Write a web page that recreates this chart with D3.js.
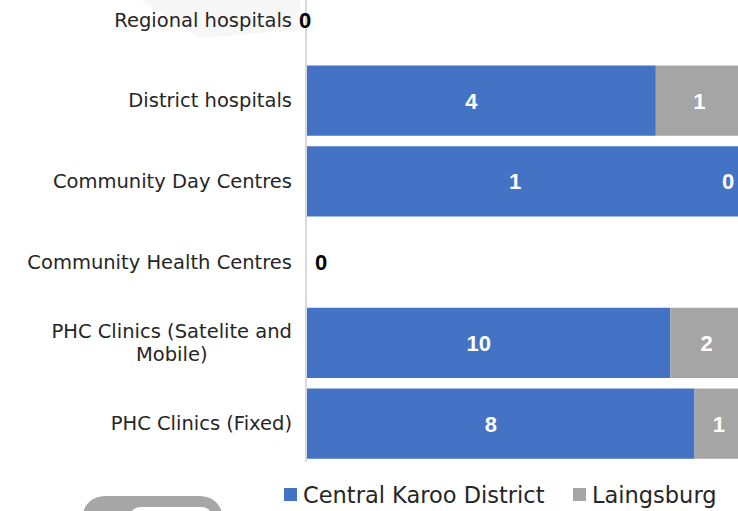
<!DOCTYPE html>
<html>
<head>
<meta charset="utf-8">
<script src="https://cdn.jsdelivr.net/npm/d3@7"></script>
<style>
  body { margin: 0; background: #fff; }
  svg { display: block; }
</style>
</head>
<body>
<svg id="mainsvg" width="738" height="511"></svg>
<script>
const categories = ['Regional hospitals', 'District hospitals', 'Community Day Centres',
    'Community Health Centres', 'PHC Clinics (Satelite and Mobile)', 'PHC Clinics (Fixed)'];
const centralKaroo = [0, 4, 1, 0, 10, 8];
const laingsburg = [0, 1, 0, 0, 2, 1];
const seriesNames = ['Central Karoo District', 'Laingsburg'];
const colors = ['#4472C4', '#A5A5A5'];

const svg = d3.select('#mainsvg');
const width = +svg.attr('width');
const height = +svg.attr('height');

// decorations from the source slide
svg.append('path')
    .attr('d', 'M140,0 L300,0 L300,30 L200,38 Z')
    .attr('fill', '#f7f7f7');
svg.append('rect')
    .attr('x', 83).attr('y', 496).attr('width', 139).attr('height', 40)
    .attr('rx', 22).attr('fill', '#a6a6a6');
svg.append('rect')
    .attr('x', 130).attr('y', 507).attr('width', 82).attr('height', 30)
    .attr('rx', 10).attr('fill', '#fff');

const xScale = d3.scaleLinear().domain([0, 1]).range([307, 743]);
const yScale = d3.scaleBand().domain(categories).range([-20.5, 464]).paddingInner(0.13).paddingOuter(0.065);

const rows = categories.map((c, i) => {
    const total = centralKaroo[i] + laingsburg[i];
    return { cat: c, vals: [centralKaroo[i], laingsburg[i]], total: total };
});

const g = svg.append('g');
const numFont = 'Liberation Sans, Arial, sans-serif';

rows.forEach(r => {
    if (r.total === 0) return;
    let acc = 0;
    r.vals.forEach((v, k) => {
        const x0 = xScale(acc / r.total);
        const x1 = xScale((acc + v) / r.total);
        if (v > 0) {
            g.append('rect')
                .attr('x', x0).attr('y', yScale(r.cat))
                .attr('width', x1 - x0).attr('height', yScale.bandwidth())
                .attr('fill', colors[k]);
        }
        // zero segments sit at the right edge of the bar; blue labels sit a bit left of centre
        const lx = v > 0 ? (x0 + x1) / 2 - (k === 0 ? 10 : 0) : x1 - 15;
        g.append('text')
            .attr('x', lx).attr('y', yScale(r.cat) + yScale.bandwidth() / 2)
            .attr('dy', '0.36em')
            .attr('text-anchor', 'middle')
            .attr('fill', '#fff')
            .attr('font-family', numFont)
            .attr('font-weight', 'bold')
            .attr('font-size', '22px')
            .text(v);
        acc += v;
    });
});

// axis line
g.append('line')
    .attr('x1', xScale(0) - 1).attr('x2', xScale(0) - 1)
    .attr('y1', 0).attr('y2', 462)
    .attr('stroke', '#d9d9d9').attr('stroke-width', 2);

// zero-total labels
const zeroNudge = { 'Regional hospitals': -2, 'Community Health Centres': 14 };
rows.filter(r => r.total === 0).forEach(r => {
    g.append('text')
        .attr('x', xScale(0) + (zeroNudge[r.cat] || 0))
        .attr('y', yScale(r.cat) + yScale.bandwidth() / 2)
        .attr('dy', '0.36em')
        .attr('text-anchor', 'middle')
        .attr('fill', '#000')
        .attr('font-family', numFont)
        .attr('font-weight', 'bold')
        .attr('font-size', '22px')
        .text('0');
});

// category labels
const labelFont = 'DejaVu Sans, sans-serif';
rows.forEach(r => {
    const t = g.append('text')
        .attr('text-anchor', 'end')
        .attr('fill', '#262626')
        .attr('font-family', labelFont)
        .attr('font-size', '19.5px')
        .attr('y', yScale(r.cat) + yScale.bandwidth() / 2);
    let lines = [r.cat];
    if (r.cat === 'PHC Clinics (Satelite and Mobile)') lines = ['PHC Clinics (Satelite and', 'Mobile)'];
    lines.forEach((ln, j) => {
        t.append('tspan')
            .attr('x', 292)
            .attr('dy', j === 0 ? (0.35 - (lines.length - 1) * 0.6) + 'em' : '1.2em')
            .text(ln);
    });
});
// second line of the wrapped label is centred under the first in the source
g.selectAll('text').filter(function() { return this.childNodes.length === 2; })
    .each(function() {
        const spans = d3.select(this).selectAll('tspan').nodes();
        const w0 = spans[0].getComputedTextLength();
        d3.select(spans[1]).attr('x', 292 - w0 / 2).attr('text-anchor', 'middle');
    });

// legend
const legend = svg.append('g').attr('transform', 'translate(284, 488)');
const legendX = [0, 289];
seriesNames.forEach((name, k) => {
    const lg = legend.append('g').attr('transform', `translate(${legendX[k]}, 0)`);
    lg.append('rect').attr('width', 13).attr('height', 13).attr('fill', colors[k]);
    lg.append('text')
        .attr('x', 19).attr('y', 7).attr('dy', '0.36em')
        .attr('fill', '#262626')
        .attr('font-family', labelFont)
        .attr('font-size', '22.5px')
        .text(name);
});
</script>
</body>
</html>
